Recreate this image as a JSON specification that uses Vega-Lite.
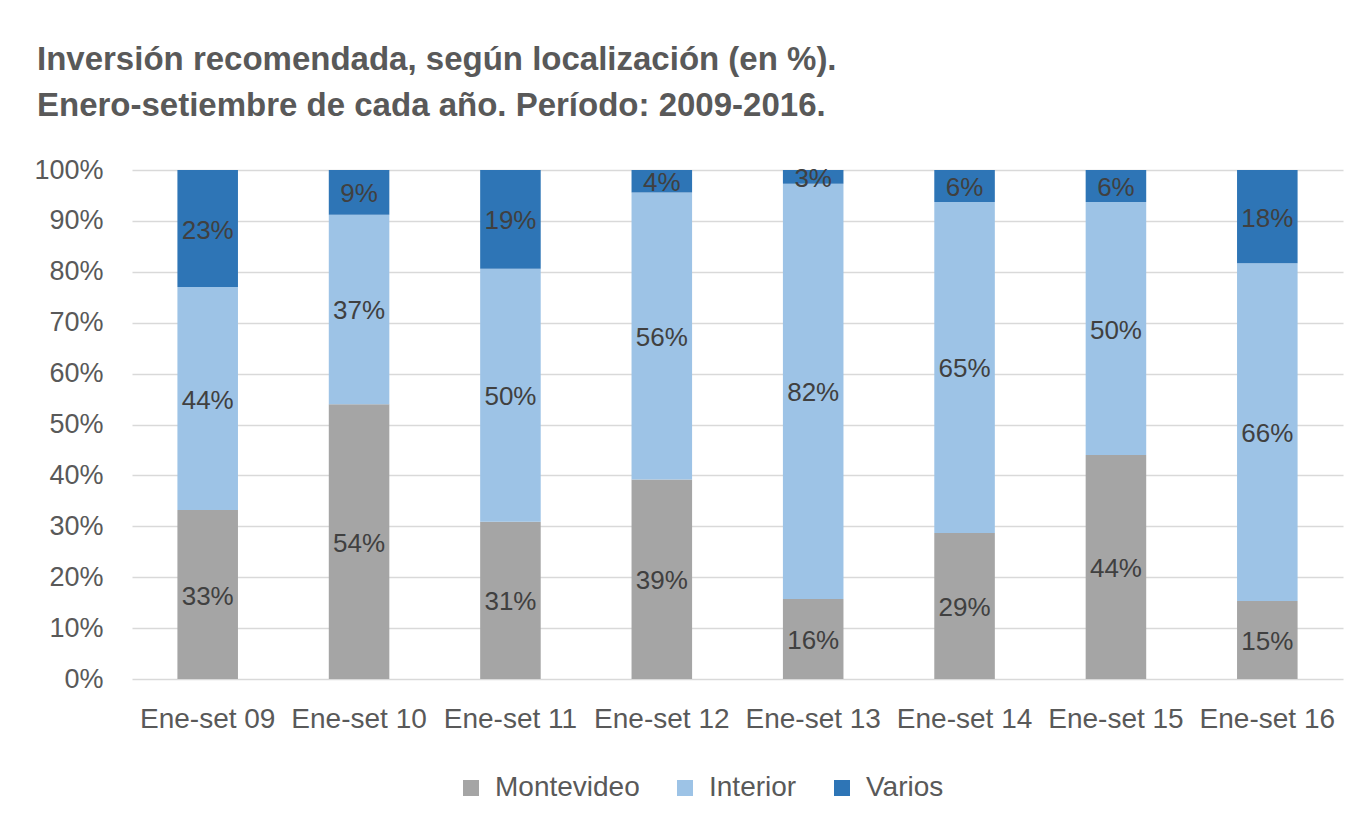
{
  "$schema": "https://vega.github.io/schema/vega-lite/v6.json",
  "width": 1211,
  "height": 509,
  "autosize": {"type": "none"},
  "padding": {"left": 132, "top": 170, "right": 14, "bottom": 150},
  "background": "white",
  "title": {
    "text": ["Inversión recomendada, según localización (en %).", "Enero-setiembre de cada año. Período: 2009-2016."],
    "anchor": "start",
    "frame": "group",
    "font": "Liberation Sans",
    "fontSize": 33,
    "fontWeight": "bold",
    "color": "#595959",
    "lineHeight": 46,
    "baseline": "bottom",
    "offset": 0,
    "dx": -95
  },
  "data": {
    "values": [
      {"periodo": "Ene-set 09", "serie": "Montevideo", "orden": 1, "valor": 0.332},
      {"periodo": "Ene-set 09", "serie": "Interior", "orden": 2, "valor": 0.438},
      {"periodo": "Ene-set 09", "serie": "Varios", "orden": 3, "valor": 0.230},
      {"periodo": "Ene-set 10", "serie": "Montevideo", "orden": 1, "valor": 0.540},
      {"periodo": "Ene-set 10", "serie": "Interior", "orden": 2, "valor": 0.372},
      {"periodo": "Ene-set 10", "serie": "Varios", "orden": 3, "valor": 0.088},
      {"periodo": "Ene-set 11", "serie": "Montevideo", "orden": 1, "valor": 0.309},
      {"periodo": "Ene-set 11", "serie": "Interior", "orden": 2, "valor": 0.497},
      {"periodo": "Ene-set 11", "serie": "Varios", "orden": 3, "valor": 0.194},
      {"periodo": "Ene-set 12", "serie": "Montevideo", "orden": 1, "valor": 0.392},
      {"periodo": "Ene-set 12", "serie": "Interior", "orden": 2, "valor": 0.564},
      {"periodo": "Ene-set 12", "serie": "Varios", "orden": 3, "valor": 0.044},
      {"periodo": "Ene-set 13", "serie": "Montevideo", "orden": 1, "valor": 0.157},
      {"periodo": "Ene-set 13", "serie": "Interior", "orden": 2, "valor": 0.816},
      {"periodo": "Ene-set 13", "serie": "Varios", "orden": 3, "valor": 0.027},
      {"periodo": "Ene-set 14", "serie": "Montevideo", "orden": 1, "valor": 0.287},
      {"periodo": "Ene-set 14", "serie": "Interior", "orden": 2, "valor": 0.650},
      {"periodo": "Ene-set 14", "serie": "Varios", "orden": 3, "valor": 0.063},
      {"periodo": "Ene-set 15", "serie": "Montevideo", "orden": 1, "valor": 0.440},
      {"periodo": "Ene-set 15", "serie": "Interior", "orden": 2, "valor": 0.497},
      {"periodo": "Ene-set 15", "serie": "Varios", "orden": 3, "valor": 0.063},
      {"periodo": "Ene-set 16", "serie": "Montevideo", "orden": 1, "valor": 0.153},
      {"periodo": "Ene-set 16", "serie": "Interior", "orden": 2, "valor": 0.664},
      {"periodo": "Ene-set 16", "serie": "Varios", "orden": 3, "valor": 0.183}
    ]
  },
  "encoding": {
    "x": {
      "field": "periodo",
      "type": "nominal",
      "sort": null,
      "title": null,
      "scale": {"paddingInner": 0.6, "paddingOuter": 0.3},
      "axis": {
        "labelAngle": 0,
        "labelFont": "Liberation Sans",
        "labelFontSize": 28,
        "labelColor": "#595959",
        "labelPadding": 26,
        "ticks": false,
        "domain": false,
        "grid": false
      }
    },
    "y": {
      "field": "valor",
      "type": "quantitative",
      "stack": "zero",
      "title": null,
      "scale": {"domain": [0, 1], "nice": false},
      "axis": {
        "format": ".0%",
        "values": [0, 0.1, 0.2, 0.3, 0.4, 0.5, 0.6, 0.7, 0.8, 0.9, 1],
        "labelFont": "Liberation Sans",
        "labelFontSize": 27,
        "labelColor": "#595959",
        "labelPadding": 29,
        "ticks": false,
        "domain": false,
        "grid": true,
        "gridColor": "#D9D9D9",
        "gridWidth": 1.5
      }
    },
    "order": {"field": "orden", "type": "quantitative"}
  },
  "layer": [
    {
      "mark": {"type": "bar"},
      "encoding": {
        "color": {
          "field": "serie",
          "type": "nominal",
          "scale": {"domain": ["Montevideo", "Interior", "Varios"], "range": ["#A5A5A5", "#9DC3E6", "#2E75B6"]},
          "legend": {
            "title": null,
            "orient": "none",
            "legendX": 325,
            "legendY": 604,
            "direction": "horizontal",
            "symbolType": "square",
            "symbolSize": 256,
            "symbolStrokeWidth": 0,
            "labelFont": "Liberation Sans",
            "labelFontSize": 28,
            "labelColor": "#595959",
            "labelOffset": 10,
            "columnPadding": 31
          }
        }
      }
    },
    {
      "mark": {"type": "text", "font": "Liberation Sans", "fontSize": 26, "color": "#404040", "baseline": "middle", "dy": 2},
      "encoding": {
        "y": {"field": "valor", "type": "quantitative", "stack": "zero", "bandPosition": 0.5},
        "text": {"field": "valor", "type": "quantitative", "format": ".0%"}
      }
    }
  ],
  "config": {"view": {"stroke": null}}
}
